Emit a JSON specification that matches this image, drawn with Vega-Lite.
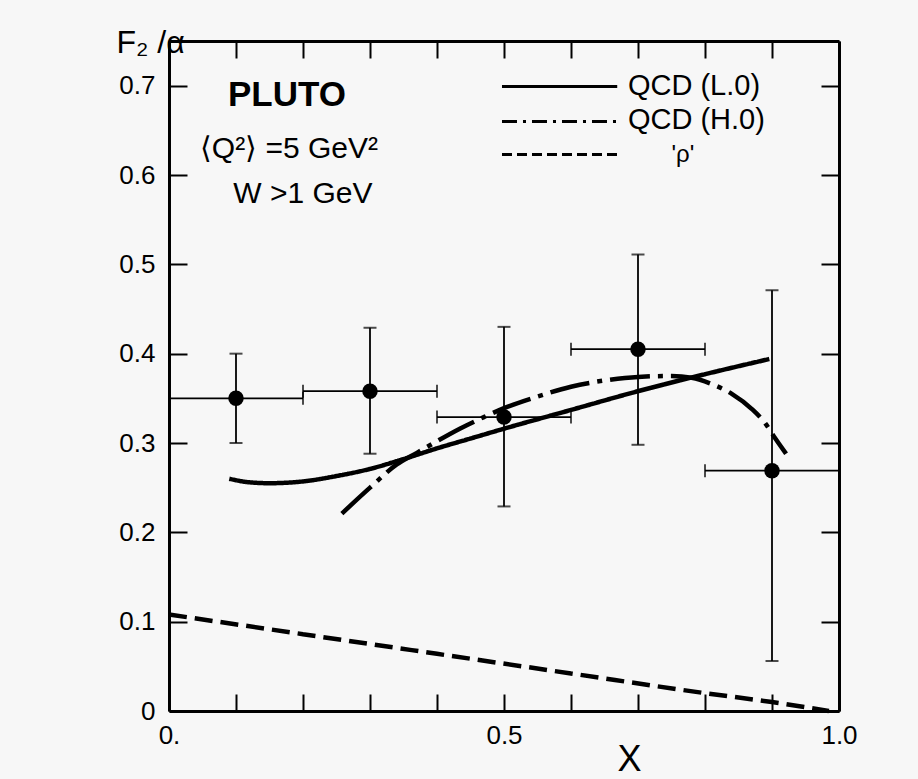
{
  "$schema": "https://vega.github.io/schema/vega-lite/v6.json",
  "width": 670,
  "height": 670,
  "autosize": {"type": "none"},
  "padding": {"left": 169, "top": 41, "right": 79, "bottom": 68},
  "background": "#f7f7f7",
  "config": {
    "view": {"stroke": null},
    "font": "Liberation Sans",
    "axis": {
      "grid": false,
      "domainColor": "#000",
      "domainWidth": 3,
      "tickColor": "#000",
      "tickWidth": 2,
      "labelColor": "#000",
      "titleColor": "#000",
      "labelFont": "Liberation Sans",
      "titleFont": "Liberation Sans"
    }
  },
  "datasets": {
    "points": [
      {"x": 0.1, "y": 0.35, "xlo": 0.0, "xhi": 0.2, "ylo": 0.30, "yhi": 0.40},
      {"x": 0.3, "y": 0.358, "xlo": 0.2, "xhi": 0.4, "ylo": 0.288, "yhi": 0.429},
      {"x": 0.5, "y": 0.329, "xlo": 0.4, "xhi": 0.6, "ylo": 0.229, "yhi": 0.43},
      {"x": 0.7, "y": 0.405, "xlo": 0.6, "xhi": 0.8, "ylo": 0.298, "yhi": 0.511},
      {"x": 0.9, "y": 0.269, "xlo": 0.8, "xhi": 1.0, "ylo": 0.056, "yhi": 0.471}
    ],
    "curves": [
      {"series": "LO", "x": 0.09, "y": 0.260},
      {"series": "LO", "x": 0.12, "y": 0.256},
      {"series": "LO", "x": 0.15, "y": 0.255},
      {"series": "LO", "x": 0.2, "y": 0.257},
      {"series": "LO", "x": 0.25, "y": 0.263},
      {"series": "LO", "x": 0.3, "y": 0.271},
      {"series": "LO", "x": 0.35, "y": 0.282},
      {"series": "LO", "x": 0.4, "y": 0.294},
      {"series": "LO", "x": 0.45, "y": 0.305},
      {"series": "LO", "x": 0.5, "y": 0.316},
      {"series": "LO", "x": 0.6, "y": 0.337},
      {"series": "LO", "x": 0.7, "y": 0.358},
      {"series": "LO", "x": 0.8, "y": 0.377},
      {"series": "LO", "x": 0.896, "y": 0.394},
      {"series": "HO", "x": 0.258, "y": 0.221},
      {"series": "HO", "x": 0.30, "y": 0.250},
      {"series": "HO", "x": 0.34, "y": 0.276},
      {"series": "HO", "x": 0.37, "y": 0.289},
      {"series": "HO", "x": 0.40, "y": 0.302},
      {"series": "HO", "x": 0.434, "y": 0.316},
      {"series": "HO", "x": 0.47, "y": 0.329},
      {"series": "HO", "x": 0.5, "y": 0.339},
      {"series": "HO", "x": 0.55, "y": 0.352},
      {"series": "HO", "x": 0.6, "y": 0.363},
      {"series": "HO", "x": 0.65, "y": 0.370},
      {"series": "HO", "x": 0.7, "y": 0.374},
      {"series": "HO", "x": 0.75, "y": 0.375},
      {"series": "HO", "x": 0.78, "y": 0.373},
      {"series": "HO", "x": 0.81, "y": 0.366},
      {"series": "HO", "x": 0.84, "y": 0.355},
      {"series": "HO", "x": 0.87, "y": 0.338},
      {"series": "HO", "x": 0.89, "y": 0.322},
      {"series": "HO", "x": 0.905, "y": 0.305},
      {"series": "HO", "x": 0.921, "y": 0.288},
      {"series": "rho", "x": 0.0, "y": 0.108},
      {"series": "rho", "x": 0.2, "y": 0.086},
      {"series": "rho", "x": 0.4, "y": 0.064},
      {"series": "rho", "x": 0.6, "y": 0.042},
      {"series": "rho", "x": 0.8, "y": 0.020},
      {"series": "rho", "x": 0.9, "y": 0.010},
      {"series": "rho", "x": 0.985, "y": 0.0}
    ]
  },
  "resolve": {"axis": {"x": "independent", "y": "independent"}},
  "layer": [
    {
      "data": {"values": [{}]},
      "layer": [
        {
          "data": {"name": "curves"},
          "mark": {"type": "line", "color": "#000", "strokeWidth": 4.5, "interpolate": "monotone"},
          "encoding": {
            "x": {
              "field": "x", "type": "quantitative",
              "scale": {"domain": [0, 1], "nice": false, "zero": false},
              "axis": {
                "orient": "bottom",
                "values": [0, 0.1, 0.2, 0.3, 0.4, 0.5, 0.6, 0.7, 0.8, 0.9, 1.0],
                "labelExpr": "datum.value == 0 ? '0.' : (abs(datum.value - 0.5) < 0.001 ? '0.5' : (datum.value == 1 ? '1.0' : ''))",
                "tickSize": -17,
                "labelPadding": 28,
                "labelFontSize": 26,
                "labelFlush": false,
                "labelOverlap": false,
                "title": "X",
                "titleFontSize": 36,
                "titleFontWeight": "normal",
                "titleX": 460,
                "titleY": 59,
                "titleAlign": "center",
                "titleBaseline": "alphabetic"
              }
            },
            "y": {
              "field": "y", "type": "quantitative",
              "scale": {"domain": [0, 0.75], "nice": false, "zero": false},
              "axis": {
                "orient": "left",
                "values": [0, 0.1, 0.2, 0.3, 0.4, 0.5, 0.6, 0.7],
                "labelExpr": "datum.value == 0 ? '0' : format(datum.value, '.1f')",
                "tickSize": -18,
                "labelPadding": 32,
                "labelFontSize": 26,
                "labelFlush": false,
                "labelOverlap": false,
                "title": "F₂ /α",
                "titleAngle": 0,
                "titleFontSize": 32,
                "titleFontWeight": "normal",
                "titleX": -19,
                "titleY": 11,
                "titleAlign": "center",
                "titleBaseline": "alphabetic"
              }
            },
            "detail": {"field": "series", "type": "nominal"},
            "strokeDash": {
              "field": "series", "type": "nominal",
              "scale": {"domain": ["LO", "HO", "rho"], "range": [[1, 0], [40, 8, 5, 8], [18, 8]]},
              "legend": null
            }
          }
        },
        {
          "data": {"name": "points"},
          "mark": {"type": "rule", "color": "#000", "strokeWidth": 1.8},
          "encoding": {
            "x": {"field": "x", "type": "quantitative"},
            "y": {"field": "ylo", "type": "quantitative"},
            "y2": {"field": "yhi"}
          }
        },
        {
          "data": {"name": "points"},
          "mark": {"type": "rule", "color": "#000", "strokeWidth": 1.8},
          "encoding": {
            "y": {"field": "y", "type": "quantitative"},
            "x": {"field": "xlo", "type": "quantitative"},
            "x2": {"field": "xhi"}
          }
        },
        {
          "data": {"name": "points"},
          "mark": {"type": "tick", "orient": "horizontal", "color": "#000", "size": 13, "thickness": 2},
          "encoding": {
            "x": {"field": "x", "type": "quantitative"},
            "y": {"field": "ylo", "type": "quantitative"}
          }
        },
        {
          "data": {"name": "points"},
          "mark": {"type": "tick", "orient": "horizontal", "color": "#000", "size": 13, "thickness": 2},
          "encoding": {
            "x": {"field": "x", "type": "quantitative"},
            "y": {"field": "yhi", "type": "quantitative"}
          }
        },
        {
          "data": {"name": "points"},
          "mark": {"type": "tick", "orient": "vertical", "color": "#000", "size": 13, "thickness": 2},
          "encoding": {
            "x": {"field": "xlo", "type": "quantitative"},
            "y": {"field": "y", "type": "quantitative"}
          }
        },
        {
          "data": {"name": "points"},
          "mark": {"type": "tick", "orient": "vertical", "color": "#000", "size": 13, "thickness": 2},
          "encoding": {
            "x": {"field": "xhi", "type": "quantitative"},
            "y": {"field": "y", "type": "quantitative"}
          }
        },
        {
          "data": {"name": "points"},
          "mark": {"type": "point", "filled": true, "color": "#000", "opacity": 1, "size": 240, "shape": "circle"},
          "encoding": {
            "x": {"field": "x", "type": "quantitative"},
            "y": {"field": "y", "type": "quantitative"}
          }
        },
        {
          "mark": {"type": "rule", "color": "#000", "strokeWidth": 3},
          "encoding": {
            "x": {"datum": 0.497, "type": "quantitative"},
            "x2": {"datum": 0.669},
            "y": {"datum": 0.699, "type": "quantitative"}
          }
        },
        {
          "mark": {"type": "rule", "color": "#000", "strokeWidth": 3, "strokeDash": [15, 6, 3, 6]},
          "encoding": {
            "x": {"datum": 0.497, "type": "quantitative"},
            "x2": {"datum": 0.669},
            "y": {"datum": 0.660, "type": "quantitative"}
          }
        },
        {
          "mark": {"type": "rule", "color": "#000", "strokeWidth": 3, "strokeDash": [10, 5]},
          "encoding": {
            "x": {"datum": 0.497, "type": "quantitative"},
            "x2": {"datum": 0.669},
            "y": {"datum": 0.623, "type": "quantitative"}
          }
        },
        {
          "mark": {"type": "text", "text": "QCD (L.0)", "fontSize": 29, "align": "left", "baseline": "alphabetic", "color": "#000"},
          "encoding": {
            "x": {"datum": 0.685, "type": "quantitative"},
            "y": {"datum": 0.689, "type": "quantitative"}
          }
        },
        {
          "mark": {"type": "text", "text": "QCD (H.0)", "fontSize": 29, "align": "left", "baseline": "alphabetic", "color": "#000"},
          "encoding": {
            "x": {"datum": 0.685, "type": "quantitative"},
            "y": {"datum": 0.651, "type": "quantitative"}
          }
        },
        {
          "mark": {"type": "text", "text": "'ρ'", "fontSize": 24, "align": "center", "baseline": "alphabetic", "color": "#000"},
          "encoding": {
            "x": {"datum": 0.767, "type": "quantitative"},
            "y": {"datum": 0.615, "type": "quantitative"}
          }
        },
        {
          "mark": {"type": "text", "text": "PLUTO", "fontSize": 35, "fontWeight": "bold", "align": "left", "baseline": "alphabetic", "color": "#000"},
          "encoding": {
            "x": {"datum": 0.088, "type": "quantitative"},
            "y": {"datum": 0.677, "type": "quantitative"}
          }
        },
        {
          "mark": {"type": "text", "text": "⟨Q²⟩ =5 GeV²", "fontSize": 30, "align": "left", "baseline": "alphabetic", "color": "#000"},
          "encoding": {
            "x": {"datum": 0.046, "type": "quantitative"},
            "y": {"datum": 0.619, "type": "quantitative"}
          }
        },
        {
          "mark": {"type": "text", "text": "W  >1 GeV", "fontSize": 30, "align": "left", "baseline": "alphabetic", "color": "#000"},
          "encoding": {
            "x": {"datum": 0.096, "type": "quantitative"},
            "y": {"datum": 0.569, "type": "quantitative"}
          }
        }
      ]
    },
    {
      "data": {"values": [{}]},
      "mark": {"type": "point", "opacity": 0},
      "encoding": {
        "x": {
          "datum": 0, "type": "quantitative",
          "axis": {
            "orient": "top",
            "values": [0, 0.1, 0.2, 0.3, 0.4, 0.5, 0.6, 0.7, 0.8, 0.9, 1.0],
            "tickSize": -17,
            "labels": false,
            "title": null
          }
        },
        "y": {
          "datum": 0, "type": "quantitative",
          "axis": {
            "orient": "right",
            "values": [0, 0.1, 0.2, 0.3, 0.4, 0.5, 0.6, 0.7],
            "tickSize": -18,
            "labels": false,
            "title": null
          }
        }
      }
    }
  ]
}
